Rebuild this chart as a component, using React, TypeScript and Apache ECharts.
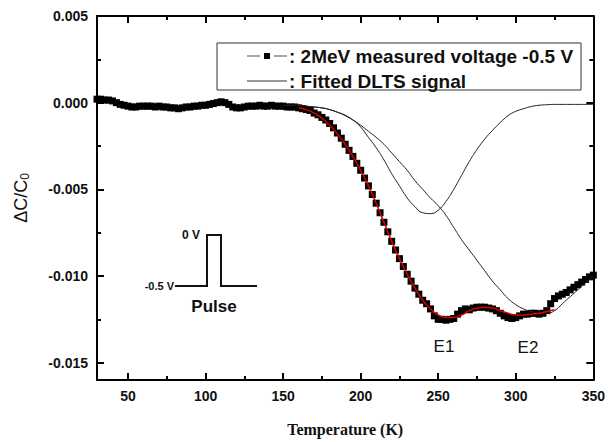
import React, { useEffect, useRef } from "react";
import * as echarts from "echarts";

// Tick positions
const X_MAJOR = [50, 100, 150, 200, 250, 300, 350];
const X_MINOR = [75, 125, 175, 225, 275, 325];
const Y_MAJOR = [-0.015, -0.01, -0.005, 0, 0.005];
const Y_MINOR = [-0.0125, -0.0075, -0.0025, 0.0025];

// Measured data (temperature K, value in units of 1e-3)
const MEAS_T = [
  30, 32.5, 35, 37.5, 40, 42.5, 45, 47.5, 50, 52.5, 55, 57.5, 60, 62.5, 65, 67.5,
  70, 72.5, 75, 77.5, 80, 82.5, 85, 87.5, 90, 92.5, 95, 97.5, 100, 102.5, 105, 107.5,
  110, 112.5, 115, 117.5, 120, 122.5, 125, 127.5, 130, 132.5, 135, 137.5, 140, 142.5, 145, 147.5,
  150, 152.5, 155, 157.5, 160, 162.5, 165, 167.5, 170, 172.5, 175, 177.5, 180, 182.5, 185, 187.5,
  190, 192.5, 195, 197.5, 200, 202.5, 205, 207.5, 210, 212.5, 215, 217.5, 220, 222.5, 225, 227.5,
  230, 232.5, 235, 237.5, 240, 242.5, 245, 247.5, 250, 252.5, 255, 257.5, 260, 262.5, 265, 267.5,
  270, 272.5, 275, 277.5, 280, 282.5, 285, 287.5, 290, 292.5, 295, 297.5, 300, 302.5, 305, 307.5,
  310, 312.5, 315, 317.5, 320, 322.5, 325, 327.5, 330, 332.5, 335, 337.5, 340, 342.5, 345, 347.5,
  350,
];
const MEAS_V = [
  0.2, 0.2, 0.15, 0.15, 0.1, 0.0, -0.1, -0.15,
  -0.2, -0.25, -0.25, -0.2, -0.2, -0.2, -0.2, -0.25,
  -0.2, -0.25, -0.25, -0.3, -0.3, -0.35, -0.3, -0.25,
  -0.25, -0.2, -0.2, -0.15, -0.15, -0.1, -0.05, 0.0,
  0.05, 0.0, -0.1, -0.25, -0.3, -0.3, -0.25, -0.2,
  -0.2, -0.2, -0.15, -0.2, -0.2, -0.15, -0.2, -0.2,
  -0.2, -0.25, -0.25, -0.25, -0.3, -0.35, -0.4, -0.45,
  -0.6, -0.7, -0.85, -1.0, -1.2, -1.45, -1.75, -2.05,
  -2.4, -2.75, -3.1, -3.5, -3.9, -4.35, -4.8, -5.3,
  -5.8, -6.35, -6.9, -7.45, -8.0, -8.5, -9.0, -9.45,
  -9.9, -10.3, -10.7, -11.05, -11.4, -11.6, -11.9, -12.3,
  -12.5, -12.5, -12.55, -12.5, -12.45, -12.2, -12.0, -11.9,
  -11.95, -11.85, -11.8, -11.8, -11.8, -11.85, -11.9, -12.0,
  -12.15, -12.3, -12.4, -12.45, -12.4, -12.3, -12.2, -12.2,
  -12.15, -12.15, -12.2, -12.15, -12.0, -11.6, -11.3, -11.15,
  -11.05, -10.95, -10.8, -10.65, -10.5, -10.35, -10.2, -10.05,
  -9.95,
];

// Fitted components (units of 1e-3)
const FIT_T = [
  150, 155, 160, 165, 170, 175, 180, 185, 190, 195,
  200, 205, 210, 215, 220, 225, 230, 235, 240, 245,
  250, 255, 260, 265, 270, 275, 280, 285, 290, 295,
  300, 305, 310, 315, 320, 325, 330, 335, 340, 345,
  350,
];
const E1_V = [
  -0.15, -0.15, -0.15, -0.2, -0.25, -0.3, -0.4, -0.55, -0.72, -1.0,
  -1.4, -2.0, -2.6, -3.3, -4.1, -4.8, -5.5, -6.0, -6.35, -6.4,
  -6.2, -5.7, -5.0, -4.2, -3.4, -2.7, -2.1, -1.6, -1.15, -0.75,
  -0.5, -0.35, -0.22, -0.15, -0.12, -0.1, -0.1, -0.1, -0.1, -0.1,
  -0.1,
];
const E2_V = [
  -0.15, -0.15, -0.15, -0.2, -0.25, -0.3, -0.4, -0.55, -0.75, -1.0,
  -1.3, -1.65, -2.0, -2.4, -2.9, -3.4, -3.9, -4.5, -5.0, -5.5,
  -5.95, -6.5, -7.2, -7.9, -8.5, -9.1, -9.7, -10.3, -10.8, -11.3,
  -11.65, -11.9, -12.05, -12.15, -12.15, -12.0, -11.6, -11.2, -10.8, -10.4,
  -10.0,
];
const TOT_T = [
  160, 165, 170, 175, 180, 185, 190, 195, 200, 205, 210, 215, 220, 225, 230, 235,
  240, 245, 250, 255, 260, 265, 270, 275, 280, 285, 290, 295, 300, 305, 310, 315,
  320, 325,
];
const TOT_V = [
  -0.3, -0.4, -0.6, -0.9, -1.3, -1.8, -2.4, -3.1, -3.9, -4.8, -5.8, -6.9, -8.0, -9.0, -9.9, -10.7,
  -11.4, -11.9, -12.25, -12.4, -12.4, -12.25, -12.0, -11.85, -11.8, -11.85, -12.0, -12.15, -12.25, -12.25, -12.2, -12.15,
  -12.05, -11.95,
];

const UNIT = 1e-3;
const pairs = (t: number[], v: number[]) => t.map((x, i) => [x, v[i] * UNIT]);

const SANS = '"Liberation Sans", Arial, sans-serif';
const SERIF = '"Liberation Serif", "Times New Roman", serif';

function xAx(position: string, ticks: number[], len: number, opts: any = {}) {
  return {
    type: "value",
    position,
    min: 30,
    max: 350,
    axisLine: { show: opts.line ?? false, onZero: false, lineStyle: { color: "#000", width: 2 } },
    axisTick: { show: true, inside: true, length: len, customValues: ticks, lineStyle: { color: "#000", width: 2 } },
    axisLabel: opts.label
      ? { show: true, customValues: ticks, margin: 9, color: "#111", fontFamily: SANS, fontWeight: "bold", fontSize: 14 }
      : { show: false },
    splitLine: { show: false },
    ...(opts.extra || {}),
  };
}
function yAx(position: string, ticks: number[], len: number, opts: any = {}) {
  return {
    type: "value",
    position,
    min: -0.016,
    max: 0.005,
    axisLine: { show: opts.line ?? false, onZero: false, lineStyle: { color: "#000", width: 2 } },
    axisTick: { show: true, inside: true, length: len, customValues: ticks, lineStyle: { color: "#000", width: 2 } },
    axisLabel: opts.label
      ? {
          show: true,
          customValues: ticks,
          margin: 9,
          color: "#111",
          fontFamily: SANS,
          fontWeight: "bold",
          fontSize: 14,
          formatter: (v: number) => v.toFixed(3),
        }
      : { show: false },
    splitLine: { show: false },
    ...(opts.extra || {}),
  };
}

export default function App() {
  const ref = useRef<HTMLDivElement>(null);
  useEffect(() => {
    if (!ref.current) return;
    const chart = echarts.init(ref.current, undefined, { renderer: "svg" });
    const textStyle = (text: string, size: number, weight = "bold", align = "left") => ({
      text,
      font: `${weight} ${size}px ${SANS}`,
      fill: "#111",
      align,
      verticalAlign: "middle",
    });
    chart.setOption({
      animation: false,
      backgroundColor: "#fff",
      grid: { left: 97, right: 12, top: 16, bottom: 59, containLabel: false },
      xAxis: [
        xAx("bottom", X_MAJOR, 7, {
          line: true,
          label: true,
          extra: {
            name: "Temperature (K)",
            nameLocation: "middle",
            nameGap: 41,
            nameTextStyle: { fontFamily: SERIF, fontWeight: "bold", fontSize: 16, color: "#111" },
          },
        }),
        xAx("bottom", X_MINOR, 4),
        xAx("top", X_MAJOR, 7, { line: true }),
        xAx("top", X_MINOR, 4),
      ],
      yAxis: [
        yAx("left", Y_MAJOR, 7, {
          line: true,
          label: true,
          extra: {
            name: "{a|ΔC/C}{b|0}",
            nameLocation: "middle",
            nameGap: 66,
            nameRotate: 90,
            nameTextStyle: {
              color: "#111",
              rich: {
                a: { fontSize: 18, fontFamily: SANS, color: "#111" },
                b: { fontSize: 12, fontFamily: SANS, color: "#111", padding: [9, 0, 0, 0] },
              },
            },
          },
        }),
        yAx("left", Y_MINOR, 4),
        yAx("right", Y_MAJOR, 7, { line: true }),
        yAx("right", Y_MINOR, 4),
      ],
      series: [
        {
          name: "2MeV measured voltage -0.5 V",
          type: "line",
          data: pairs(MEAS_T, MEAS_V),
          symbol: "rect",
          symbolSize: 7,
          showAllSymbol: true,
          itemStyle: { color: "#000" },
          lineStyle: { color: "#777", width: 1, type: "dashed" },
          z: 2,
        },
        {
          name: "E1",
          type: "line",
          data: pairs(FIT_T, E1_V),
          smooth: true,
          symbol: "none",
          lineStyle: { color: "#222", width: 1 },
          z: 3,
        },
        {
          name: "E2",
          type: "line",
          data: pairs(FIT_T, E2_V),
          smooth: true,
          symbol: "none",
          lineStyle: { color: "#222", width: 1 },
          z: 3,
        },
        {
          name: "Fitted total",
          type: "line",
          data: pairs(TOT_T, TOT_V),
          smooth: true,
          symbol: "none",
          lineStyle: { color: "#d40000", width: 1.5 },
          z: 4,
        },
      ],
      graphic: [
        { type: "rect", shape: { x: 217, y: 43, width: 364, height: 47 }, style: { fill: "#fff", stroke: "#333", lineWidth: 1 }, z: 10 },
        { type: "line", shape: { x1: 247, y1: 56, x2: 260, y2: 56 }, style: { stroke: "#888", lineWidth: 1.5 }, z: 11 },
        { type: "rect", shape: { x: 264, y: 53, width: 6, height: 6 }, style: { fill: "#000" }, z: 11 },
        { type: "line", shape: { x1: 274, y1: 56, x2: 287, y2: 56 }, style: { stroke: "#888", lineWidth: 1.5 }, z: 11 },
        { type: "text", x: 289, y: 56, style: textStyle(": 2MeV measured voltage -0.5 V", 19), z: 11 },
        { type: "line", shape: { x1: 247, y1: 81, x2: 287, y2: 81 }, style: { stroke: "#777", lineWidth: 1.5 }, z: 11 },
        { type: "text", x: 289, y: 81, style: textStyle(": Fitted DLTS signal", 19), z: 11 },
        {
          type: "polyline",
          shape: { points: [[175, 286], [207, 286], [207, 235], [221, 235], [221, 286], [257, 286]] },
          style: { stroke: "#111", lineWidth: 2, fill: null },
          z: 11,
        },
        { type: "text", x: 200, y: 235, style: textStyle("0 V", 12, "bold", "right"), z: 11 },
        { type: "text", x: 174, y: 286, style: textStyle("-0.5 V", 11, "bold", "right"), z: 11 },
        { type: "text", x: 214, y: 306, style: textStyle("Pulse", 17, "bold", "center"), z: 11 },
        { type: "text", x: 444, y: 346, style: textStyle("E1", 17, "normal", "center"), z: 11 },
        { type: "text", x: 528, y: 347, style: textStyle("E2", 17, "normal", "center"), z: 11 },
      ],
    });
    return () => chart.dispose();
  }, []);
  return (
    <div
      ref={ref}
      style={{ position: "absolute", left: 0, top: 0, width: 608, height: 442, background: "#fff" }}
    />
  );
}
